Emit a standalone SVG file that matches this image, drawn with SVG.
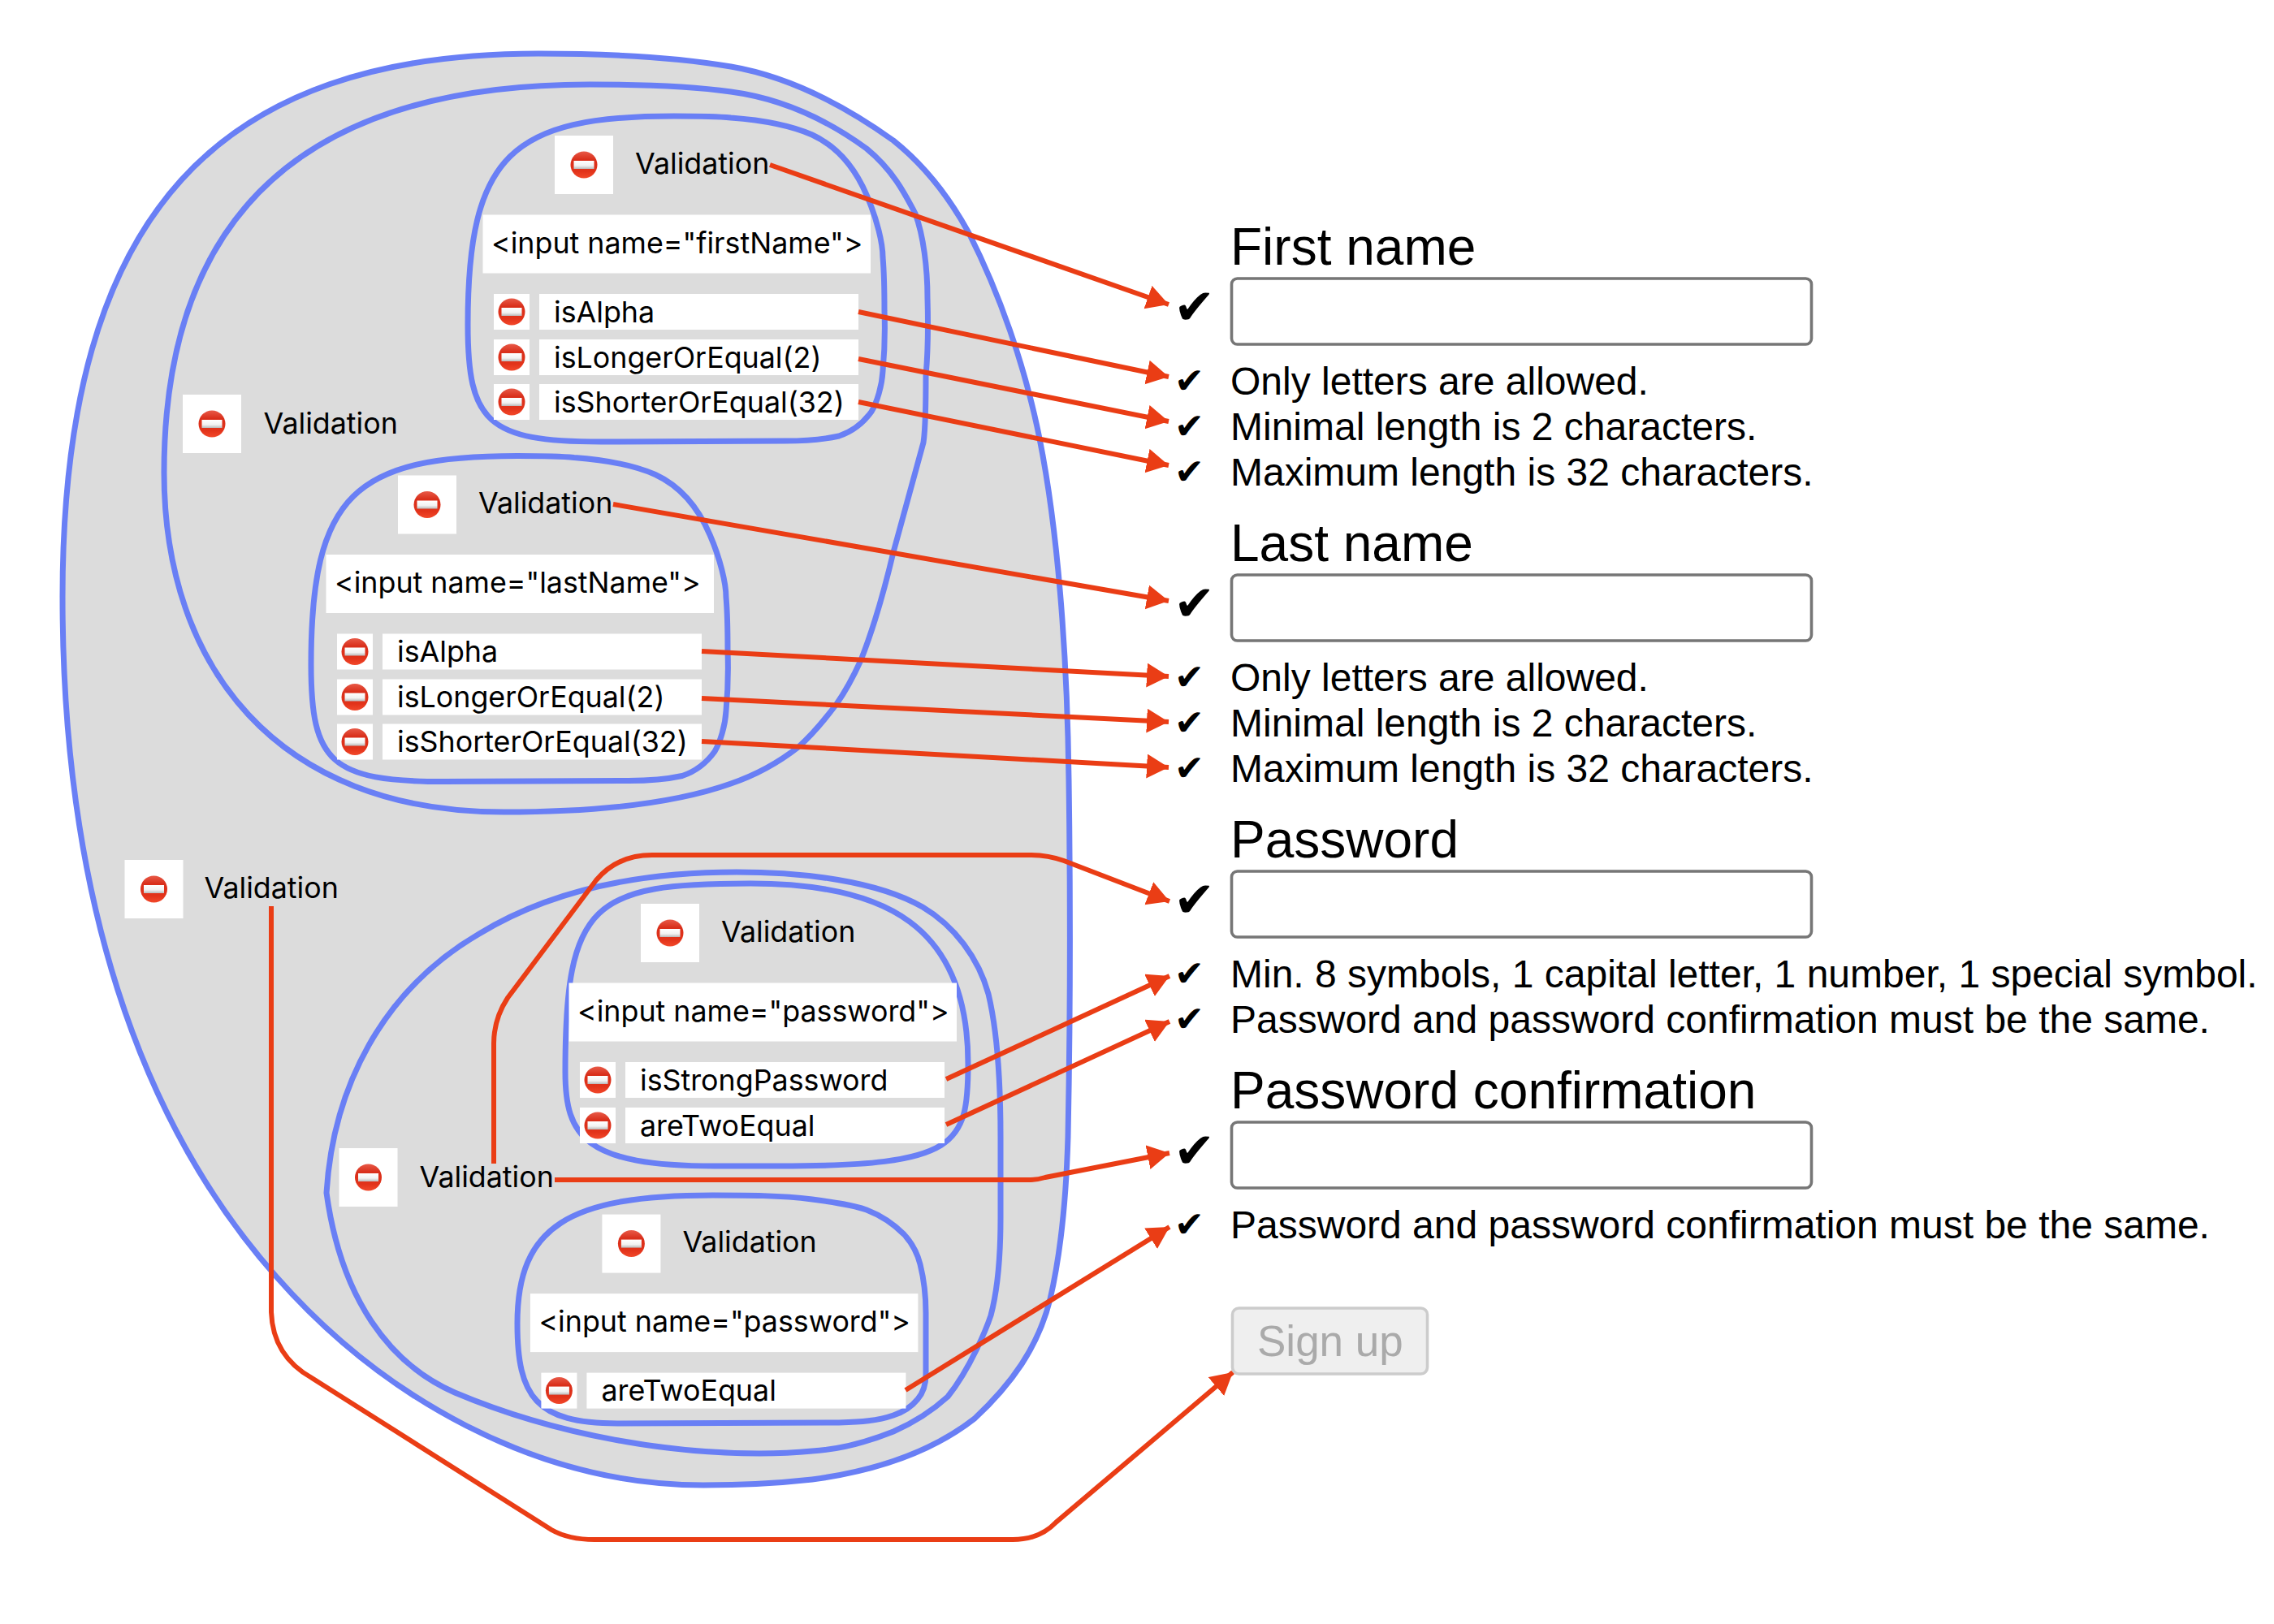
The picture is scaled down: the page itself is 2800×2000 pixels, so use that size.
<svg xmlns="http://www.w3.org/2000/svg" width="2800" height="2000" viewBox="0 0 2800 2000">
<style>
.frame{fill:#dcdcdc;stroke:#697ff5;stroke-width:7}
.box{fill:#fff}
.t{font-family:"Inter","Liberation Sans",sans-serif;font-size:35.800px;fill:#000}
.h{font-family:"Liberation Sans",sans-serif;font-size:64px;fill:#000}
.r{font-family:"Liberation Sans",sans-serif;font-size:48px;fill:#000}
.ck{font-family:"DejaVu Sans",sans-serif;fill:#000}
.ckb{font-size:61px}
.cks{font-size:44px}
.inp{fill:#fff;stroke:#767676;stroke-width:3.600}
.c{fill:none;stroke:#ea3d15;stroke-width:6;marker-end:url(#ah)}
</style>
<defs>
<marker id="ah" markerUnits="userSpaceOnUse" markerWidth="34" markerHeight="34" refX="27" refY="15" orient="auto"><path d="M0,0L27,15L0,30Z" fill="#ea3d15"/></marker>
<linearGradient id="rg" x1="0" y1="0" x2="0" y2="1"><stop offset="0" stop-color="#e85a48"/><stop offset="0.3" stop-color="#d92f1b"/><stop offset="0.75" stop-color="#e2331a"/><stop offset="1" stop-color="#f2482a"/></linearGradient>
<linearGradient id="bg" x1="0" y1="0" x2="0" y2="1"><stop offset="0" stop-color="#fff"/><stop offset="0.6" stop-color="#f2f2f2"/><stop offset="1" stop-color="#b9b9b9"/></linearGradient>
<path id="fnframe" class="frame" d="M830,143C850,143 880,143 900,145C940,148 975,155 1000,166C1030,180 1052,205 1067,240C1080,270 1087,300 1087,317C1089,340 1089,360 1089,383C1090,410 1089,435 1087,457C1086,475 1080,495 1073,507C1060,525 1045,533 1033,537C1010,542 990,543 967,543L740,544C600,544 576,520 576,400C576,190 630,143 830,143Z"/>
<g id="no"><circle r="16.500" fill="url(#rg)"/><rect x="-12.500" y="-5" width="25" height="10" fill="url(#bg)"/></g>
<g id="head"><rect class="box" x="683" y="167" width="72" height="72"/><use href="#no" x="719" y="203"/><text class="t" x="782" y="213.500">Validation</text></g>
<rect id="inbox" class="box" x="594.500" y="264.500" width="477.500" height="72"/>
<g id="row1"><rect class="box" x="608" y="362" width="44" height="44"/><use href="#no" x="630" y="384"/><rect class="box" x="664" y="362" width="393" height="44"/></g>
<g id="row2"><rect class="box" x="608" y="418" width="44" height="44"/><use href="#no" x="630" y="440"/><rect class="box" x="664" y="418" width="393" height="44"/></g>
<g id="row3"><rect class="box" x="608" y="473" width="44" height="44"/><use href="#no" x="630" y="495"/><rect class="box" x="664" y="473" width="393" height="44"/></g>
</defs>
<rect width="2800" height="2000" fill="#fff"/>
<g id="outer-validation">
<path class="frame" d="M663,66C750,66 830,70 900,82C970,94 1040,130 1100,173C1140,205 1170,245 1193,287C1230,360 1262,450 1280,540C1302,650 1314,800 1316,960C1318,1100 1318,1250 1315,1400C1313,1470 1307,1540 1293,1600C1278,1660 1245,1705 1200,1747C1145,1790 1075,1812 1000,1822C955,1827 910,1829 866,1829C660,1829 470,1720 340,1572C170,1380 77,1100 77,735C77,260 270,66 663,66Z"/>
<rect class="box" x="153.500" y="1059" width="72" height="72"/><use href="#no" x="189.500" y="1095"/><text class="t" x="251.500" y="1106">Validation</text>
</g>
<g id="names-validation">
<path class="frame" d="M726,104C790,104 850,106 900,113C960,121 1015,145 1067,183C1100,210 1115,240 1127,263C1137,290 1142,330 1142,367C1143,400 1142,440 1140,463C1140,490 1140,525 1137,545L1100,680C1087,735 1075,775 1060,813C1050,835 1042,850 1030,867C1015,887 1000,905 983,920C960,938 935,953 900,965C830,990 730,1000 620,1000C340,1000 202,820 202,582C202,260 380,104 726,104Z"/>
<rect class="box" x="225" y="486" width="72" height="72"/><use href="#no" x="261" y="522"/><text class="t" x="324.500" y="533.500">Validation</text>
</g>
<g id="first-name-validation">
<use href="#fnframe"/>
<use href="#head"/>
<use href="#inbox"/><text class="t" x="605" y="311.500">&lt;input name="firstName"&gt;</text>
<use href="#row1"/><text class="t" x="682" y="396.500">isAlpha</text>
<use href="#row2"/><text class="t" x="682" y="452.500">isLongerOrEqual(2)</text>
<use href="#row3"/><text class="t" x="682" y="507.500">isShorterOrEqual(32)</text>
</g>
<g id="last-name-validation" transform="translate(-193,418.500)">
<use href="#fnframe"/>
<use href="#head"/>
<use href="#inbox"/><text class="t" x="605" y="311.500">&lt;input name="lastName"&gt;</text>
<use href="#row1"/><text class="t" x="682" y="396.500">isAlpha</text>
<use href="#row2"/><text class="t" x="682" y="452.500">isLongerOrEqual(2)</text>
<use href="#row3"/><text class="t" x="682" y="507.500">isShorterOrEqual(32)</text>
</g>
<g id="passwords-validation">
<path class="frame" d="M907,1074C990,1074 1080,1085 1136,1117C1175,1140 1205,1180 1217,1224C1228,1270 1232,1340 1232,1400L1232,1500C1232,1550 1228,1590 1220,1620C1215,1635 1195,1685 1167,1720C1145,1740 1125,1752 1100,1763C1070,1775 1035,1785 1000,1787Q970,1790 935,1790C830,1790 690,1770 560,1715C480,1680 420,1600 402,1469C410,1340 470,1220 590,1150C680,1095 790,1074 907,1074Z"/>
<rect class="box" x="417.500" y="1414" width="72" height="72"/><use href="#no" x="453.500" y="1450"/><text class="t" x="516.500" y="1461.500">Validation</text>
</g>
<g id="password-validation">
<path class="frame" d="M924,1088C1090,1088 1192,1140 1192,1310C1192,1410 1180,1436 960,1436L880,1436C720,1436 696,1400 696,1320C696,1110 730,1088 924,1088Z"/>
<g transform="translate(106,946)"><use href="#head"/>
<use href="#inbox"/><text class="t" x="605" y="311.500">&lt;input name="password"&gt;</text>
<use href="#row1"/><text class="t" x="682" y="396.500">isStrongPassword</text>
<use href="#row2"/><text class="t" x="682" y="452.500">areTwoEqual</text></g>
</g>
<g id="confirm-validation">
<path class="frame" d="M878,1472C920,1472 960,1472 1000,1477C1030,1481 1050,1484 1067,1490C1085,1497 1100,1507 1113,1520C1125,1533 1130,1545 1133,1557C1138,1577 1140,1597 1140,1617L1140,1693C1140,1705 1136,1716 1130,1723C1122,1733 1112,1739 1100,1743C1080,1750 1060,1751 1033,1752L760,1753C660,1753 637,1720 637,1630C637,1510 700,1472 878,1472Z"/>
<g transform="translate(58.400,1328.600)"><use href="#head"/>
<use href="#inbox"/><text class="t" x="605" y="311.500">&lt;input name="password"&gt;</text>
<use href="#row1"/><text class="t" x="682" y="396.500">areTwoEqual</text></g>
</g>
<g id="form-first-name">
<text class="h" x="1515" y="325.500">First name</text><rect class="inp" x="1516.500" y="343" width="714" height="81" rx="7"/>
<text class="ck ckb" x="1445" y="399">✔</text>
<text class="ck cks" x="1446" y="484">✔</text><text class="r" x="1515" y="486">Only letters are allowed.</text>
<text class="ck cks" x="1446" y="540">✔</text><text class="r" x="1515" y="542">Minimal length is 2 characters.</text>
<text class="ck cks" x="1446" y="596">✔</text><text class="r" x="1515" y="598">Maximum length is 32 characters.</text>
</g>
<g id="form-last-name">
<text class="h" x="1515" y="690.500">Last name</text><rect class="inp" x="1516.500" y="708" width="714" height="81" rx="7"/>
<text class="ck ckb" x="1445" y="764">✔</text>
<text class="ck cks" x="1446" y="849">✔</text><text class="r" x="1515" y="851">Only letters are allowed.</text>
<text class="ck cks" x="1446" y="905">✔</text><text class="r" x="1515" y="907">Minimal length is 2 characters.</text>
<text class="ck cks" x="1446" y="961">✔</text><text class="r" x="1515" y="963">Maximum length is 32 characters.</text>
</g>
<g id="form-password">
<text class="h" x="1515" y="1055.500">Password</text><rect class="inp" x="1516.500" y="1073" width="714" height="81" rx="7"/>
<text class="ck ckb" x="1445" y="1129">✔</text>
<text class="ck cks" x="1446" y="1214">✔</text><text class="r" x="1515" y="1216">Min. 8 symbols, 1 capital letter, 1 number, 1 special symbol.</text>
<text class="ck cks" x="1446" y="1270">✔</text><text class="r" x="1515" y="1272">Password and password confirmation must be the same.</text>
</g>
<g id="form-password-confirmation">
<text class="h" x="1515" y="1364.500">Password confirmation</text><rect class="inp" x="1516.500" y="1382" width="714" height="81" rx="7"/>
<text class="ck ckb" x="1445" y="1438">✔</text>
<text class="ck cks" x="1446" y="1523">✔</text><text class="r" x="1515" y="1525">Password and password confirmation must be the same.</text>
</g>
<g id="sign-up">
<rect x="1517.500" y="1611" width="240" height="81" rx="8" fill="#efefef" stroke="#ccc" stroke-width="3.600"/>
<text x="1548" y="1669.500" style="font-family:'Liberation Sans',sans-serif;font-size:53px;fill:#aaa">Sign up</text>
</g>
<g id="connectors">
<path class="c" d="M948,203L1439,375"/>
<path class="c" d="M1057,384L1439,464"/>
<path class="c" d="M1057,442L1439,519"/>
<path class="c" d="M1057,495L1439,573"/>
<path class="c" d="M755,621L1439,740"/>
<path class="c" d="M864,802L1439,833"/>
<path class="c" d="M864,860L1439,889"/>
<path class="c" d="M864,913L1439,945"/>
<path class="c" d="M608,1433L608,1285Q608,1255 625,1229L734,1084Q760,1053 803,1053L1268,1053Q1290,1053 1310,1060L1440,1110"/>
<path class="c" d="M1165,1329L1440,1202"/>
<path class="c" d="M1165,1385L1440,1258"/>
<path class="c" d="M683,1453L1267,1453Q1277,1453 1287,1450L1440,1420"/>
<path class="c" d="M1115,1712L1440,1511"/>
<path class="c" d="M334,1116L334,1616Q336,1670 384,1697L679,1884Q700,1896 732,1896L1247,1896Q1280,1896 1300,1875L1518,1690"/>
</g>
</svg>
